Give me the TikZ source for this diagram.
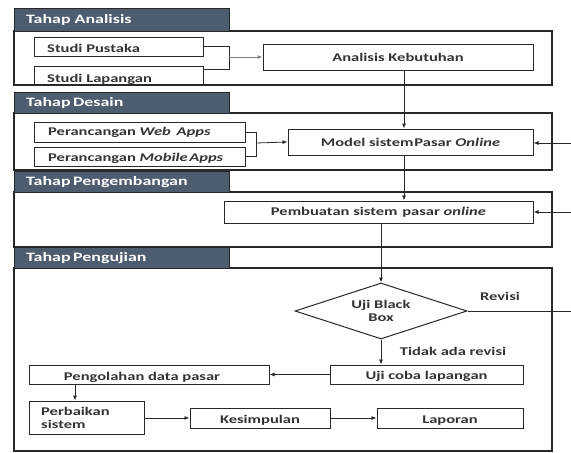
\documentclass[tikz,border=0pt]{standalone}
\usepackage{fontspec}
\setmainfont{Carlito}[FakeStretch=1.4]
\usetikzlibrary{arrows.meta,shapes.geometric,calc}
\definecolor{hdr}{RGB}{78,92,112}
\definecolor{ln}{RGB}{40,40,40}
\tikzset{
  hdrbox/.style={draw=ln,fill=hdr,line width=1pt,anchor=north west,inner sep=0pt},
  hdrtxt/.style={text=white,font=\bfseries\fontsize{12.8}{14}\selectfont,anchor=west,inner sep=0pt},
  panel/.style={draw=ln,line width=1.3pt},
  pbox/.style={draw=ln,line width=1pt,inner sep=0pt},
  arr/.style={draw=ln,line width=0.8pt,-{Latex[length=5pt,width=4pt]}},
  con/.style={draw=ln,line width=0.8pt},
  lbl/.style={font=\bfseries\fontsize{11.8}{13}\selectfont,text=black!80,inner sep=0pt}
}
\newcommand{\pb}[5]{% name, x1,y1,x2,y2
  \node[pbox,minimum width=#4-#2,minimum height=#5-#3] (#1) at ({(#2+#4)/2},{(#3+#5)/2}) {};
}
\begin{document}
\begin{tikzpicture}[x=1pt,y=-1pt]
\useasboundingbox (0,0) rectangle (571,453);
% panels
\draw[panel] (14,31) rectangle (552,85);
\draw[panel] (14,113) rectangle (552,170);
\draw[panel] (14,192) rectangle (552,247);
\draw[panel] (14,268) rectangle (552,451);
% headers
\node[hdrbox,minimum width=215,minimum height=23] (h1) at (14,8) {};
\node[hdrtxt] (t1) at (26,20) {Tahap Analisis};
\node[hdrbox,minimum width=215,minimum height=21] (h2) at (14,92) {};
\node[hdrtxt] (t2) at (26,103) {Tahap\hspace{2.5pt}Desain};
\node[hdrbox,minimum width=215,minimum height=21] (h3) at (14,171) {};
\node[hdrtxt] (t3) at (26,182) {Tahap\hspace{2.5pt}Pengembangan};
\node[hdrbox,minimum width=215,minimum height=21] (h4) at (14,247) {};
\node[hdrtxt] (t4) at (26,258) {Tahap\hspace{2.5pt}Pengujian};
% Analisis boxes
\pb{sp}{34}{37}{203}{56}
\node[lbl,anchor=west] (tsp) at (47,48) {Studi Pustaka};
\pb{sl}{34}{66}{203}{85}
\node[lbl,anchor=west] (tsl) at (47,79) {Studi Lapangan};
\pb{ak}{263}{44}{533}{70}
\node[lbl] (tak) at (ak.center) {Analisis Kebutuhan};
\coordinate (b1) at (229,57);
\draw[con] (sp.east) -- (sp.east -| b1) -- ($(sl.north east -| b1)+(0,4)$) -- ($(sl.north east)+(0,4)$);
\draw[arr,draw=black!50] (b1) -- (ak.west);
% Desain
\pb{wa}{34}{122}{245}{142}
\node[lbl,anchor=west] (twa) at (48,132) {Perancangan \textit{Web \hspace{2pt}Apps}};
\pb{ma}{34}{147}{245}{166}
\node[lbl,anchor=west] (tma) at (48,158) {Perancangan \textit{Mobile\hspace{1.5pt}Apps}};
\pb{md}{288}{129}{533}{155}
\node[lbl] (tmd) at (md.center) {Model sistem\hspace{1pt}Pasar \textit{Online}};
\coordinate (b2) at (256,143);
\draw[con] (wa.east) -- (wa.east -| b2) -- (ma.east -| b2) -- (ma.east);
\draw[arr] (b2) -- (md.west);
\draw[arr] (ak.south -| 404,0) -- (md.north -| 404,0);
\coordinate (r1) at (571,143);
\draw[arr] (r1) -- (r1 -| md.east);
% Pengembangan
\pb{pm}{224}{201}{533}{223}
\node[lbl] (tpm) at (pm.center) {Pembuatan sistem \hspace{1pt}pasar \textit{online}};
\draw[arr] (md.south -| 404,0) -- (pm.north -| 404,0);
\coordinate (r2) at (571,212);
\draw[arr] (r2) -- (r2 -| pm.east);
% Pengujian
\node[diamond,draw=ln,line width=1pt,minimum width=172,minimum height=56,inner sep=0pt,aspect=3.07] (ub) at (381,311) {};
\node[lbl,align=center] (tub) at (381,311) {Uji Black\\Box};
\draw[arr] (pm.south -| ub.north) -- (ub.north);
\coordinate (r3) at (571,311);
\draw[con] (ub.east) -- (r3);
\node[lbl] (rev) at (500,296) {Revisi};
\pb{uc}{330}{365}{523}{384}
\node[lbl] (tuc) at ($(uc.center)+(0,1.5)$) {Uji coba lapangan};
\draw[arr] (ub.south) -- (ub.south |- uc.north);
\node[lbl] (tar) at (453,351) {Tidak ada revisi};
\pb{pd}{29}{365}{269}{384}
\node[lbl] (tpd) at (142,377) {Pengolahan data pasar};
\draw[arr] (uc.west) -- (pd.east);
\pb{ps}{29}{401}{144}{434}
\node[lbl,anchor=west,align=left] (tps) at (41,418) {Perbaikan\\sistem};
\draw[arr] (pd.south -| 75,0) -- (ps.north -| 75,0);
\pb{ks}{190}{408}{330}{428}
\node[lbl] (tks) at ($(ks.center)+(0,2.5)$) {Kesimpulan};
\pb{lp}{377}{408}{523}{428}
\node[lbl] (tlp) at ($(lp.center)+(0,2.5)$) {Laporan};
\draw[arr] (ps.east |- ks.west) -- (ks.west);
\draw[arr] (ks.east) -- (lp.west);
\end{tikzpicture}
\end{document}
